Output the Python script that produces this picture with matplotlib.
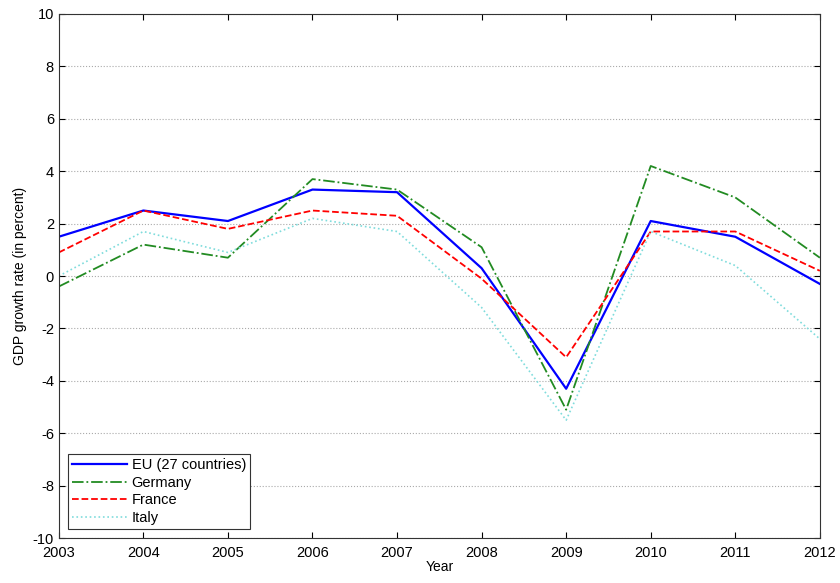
import numpy as np
import matplotlib.pyplot as plt

plt.rcParams['font.family'] = ['Liberation Sans', 'DejaVu Sans']
plt.rcParams['axes.unicode_minus'] = False

years = [2003, 2004, 2005, 2006, 2007, 2008, 2009, 2010, 2011, 2012]
eu = [1.5, 2.5, 2.1, 3.3, 3.2, 0.3, -4.3, 2.1, 1.5, -0.3]
germany = [-0.4, 1.2, 0.7, 3.7, 3.3, 1.1, -5.1, 4.2, 3.0, 0.7]
france = [0.9, 2.5, 1.8, 2.5, 2.3, -0.1, -3.1, 1.7, 1.7, 0.2]
italy = [0.0, 1.7, 0.9, 2.2, 1.7, -1.2, -5.5, 1.7, 0.4, -2.4]

fig = plt.figure(figsize=(8.4, 5.83), dpi=100)
ax = fig.add_axes([0.070, 0.077, 0.906, 0.899])

ax.plot(years, eu, color='#0000ff', lw=1.6, ls='-', label='EU (27 countries)')
ax.plot(years, germany, color='#228b22', lw=1.3, ls='-.', label='Germany')
ax.plot(years, france, color='#ff0000', lw=1.3, ls='--', label='France')
ax.plot(years, italy, color='#7fdcdc', lw=1.2, ls=':', label='Italy')

ax.set_xlim(2003, 2012)
ax.set_ylim(-10, 10)
ax.set_xticks(years)
ax.set_yticks(np.arange(-10, 11, 2))
ax.yaxis.grid(True, ls=':', color='#aaaaaa', lw=0.8)
ax.tick_params(direction='in', top=True, right=True, labelsize=10.5, length=4)
ax.tick_params(axis='x', pad=6)
for s in ax.spines.values():
    s.set_color('#333333')

ax.set_xlabel('Year', fontsize=10, labelpad=0)
ax.set_ylabel('GDP growth rate (in percent)', fontsize=10, labelpad=4)

leg = ax.legend(loc='lower left', fontsize=10.5, fancybox=False, framealpha=1,
                edgecolor='#333333', borderaxespad=0.6, handlelength=3.8,
                labelspacing=0.25, borderpad=0.3, handletextpad=0.3)
leg.get_frame().set_linewidth(0.8)

fig.savefig('out.png', dpi=100)
